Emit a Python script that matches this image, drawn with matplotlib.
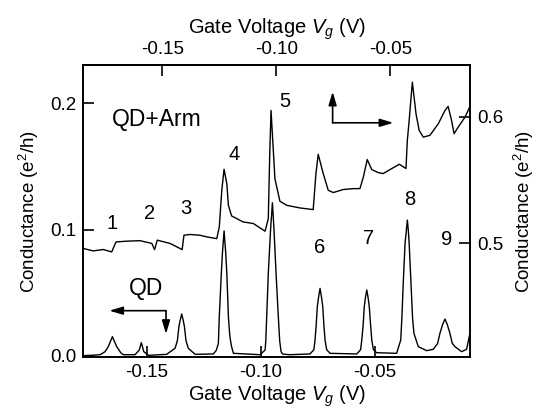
import matplotlib
matplotlib.use('Agg')
import matplotlib.pyplot as plt

plt.rcParams['font.family'] = ['Liberation Sans', 'DejaVu Sans']
plt.rcParams['mathtext.fontset'] = 'custom'
plt.rcParams['mathtext.rm'] = 'Liberation Sans'
plt.rcParams['mathtext.it'] = 'Liberation Sans:italic'

# QD trace (left axis), gate voltage in V, conductance in e^2/h
vg_qd = [-0.1779, -0.1740, -0.1706, -0.1684, -0.1670, -0.1652, -0.1633, -0.1615,
         -0.1604, -0.1553, -0.1534, -0.1525, -0.1514, -0.1494, -0.1414, -0.1377,
         -0.1367, -0.1360, -0.1355, -0.1348, -0.1341, -0.1336, -0.1329, -0.1319,
         -0.1289, -0.1209, -0.1196, -0.1187, -0.1183, -0.1174, -0.1169, -0.1162,
         -0.1155, -0.1150, -0.1143, -0.1137, -0.1130, -0.1121, -0.1004, -0.0982,
         -0.0979, -0.0975, -0.0968, -0.0958, -0.0950, -0.0943, -0.0934, -0.0924,
         -0.0918, -0.0912, -0.0905, -0.0873, -0.0785, -0.0768, -0.0763, -0.0758,
         -0.0753, -0.0747, -0.0741, -0.0735, -0.0729, -0.0724, -0.0719, -0.0712,
         -0.0697, -0.0580, -0.0563, -0.0558, -0.0552, -0.0547, -0.0542, -0.0536,
         -0.0530, -0.0525, -0.0519, -0.0514, -0.0507, -0.0493, -0.0405, -0.0387,
         -0.0382, -0.0376, -0.0368, -0.0362, -0.0358, -0.0354, -0.0350, -0.0342,
         -0.0335, -0.0329, -0.0310, -0.0273, -0.0244, -0.0225, -0.0215, -0.0203,
         -0.0193, -0.0183, -0.0171, -0.0161, -0.0149, -0.0120, -0.0098, -0.0083]
g_qd = [0.0003, 0.0006, 0.0010, 0.0034, 0.0074, 0.0153, 0.0074, 0.0025,
        0.0010, 0.0010, 0.0047, 0.0105, 0.0034, 0.0005, 0.0013, 0.0061,
        0.0120, 0.0233, 0.0280, 0.0332, 0.0280, 0.0233, 0.0120, 0.0061,
        0.0013, 0.0016, 0.0045, 0.0100, 0.0311, 0.0656, 0.0820, 0.0990,
        0.0820, 0.0656, 0.0311, 0.0160, 0.0080, 0.0021, 0.0010, 0.0047,
        0.0120, 0.0310, 0.0654, 0.1000, 0.1212, 0.1000, 0.0654, 0.0310,
        0.0120, 0.0034, 0.0015, 0.0010, 0.0016, 0.0050, 0.0126, 0.0240,
        0.0390, 0.0470, 0.0535, 0.0470, 0.0390, 0.0240, 0.0126, 0.0050,
        0.0021, 0.0016, 0.0050, 0.0126, 0.0240, 0.0390, 0.0460, 0.0522,
        0.0460, 0.0390, 0.0240, 0.0126, 0.0050, 0.0026, 0.0021, 0.0126,
        0.0300, 0.0575, 0.0891, 0.1000, 0.1075, 0.1000, 0.0891, 0.0575,
        0.0300, 0.0179, 0.0074, 0.0042, 0.0053, 0.0100, 0.0179, 0.0250,
        0.0292, 0.0250, 0.0179, 0.0100, 0.0074, 0.0034, 0.0053, 0.0182]

# QD+Arm trace (right axis)
vg_arm = [-0.1779, -0.1736, -0.1692, -0.1655, -0.1636, -0.1589, -0.1531, -0.1479,
          -0.1467, -0.1455, -0.1399, -0.1355, -0.1346, -0.1338, -0.1311, -0.1268,
          -0.1238, -0.1194, -0.1183, -0.1172, -0.1162, -0.1150, -0.1143, -0.1129,
          -0.1078, -0.1034, -0.0982, -0.0968, -0.0962, -0.0956, -0.0946, -0.0939,
          -0.0917, -0.0887, -0.0829, -0.0771, -0.0759, -0.0749, -0.0727, -0.0705,
          -0.0683, -0.0639, -0.0595, -0.0566, -0.0551, -0.0534, -0.0514, -0.0486,
          -0.0464, -0.0434, -0.0393, -0.0364, -0.0358, -0.0350, -0.0336, -0.0320,
          -0.0306, -0.0288, -0.0259, -0.0222, -0.0193, -0.0179, -0.0164, -0.0153,
          -0.0135, -0.0105, -0.0083]
g_arm = [0.4958, 0.4939, 0.4950, 0.4931, 0.5010, 0.5016, 0.5020, 0.4998,
         0.4949, 0.5024, 0.4998, 0.4958, 0.4949, 0.5063, 0.5069, 0.5063,
         0.5050, 0.5036, 0.5129, 0.5419, 0.5585, 0.5472, 0.5300, 0.5216,
         0.5168, 0.5156, 0.5095, 0.5195, 0.5682, 0.6051, 0.5735, 0.5511,
         0.5332, 0.5300, 0.5279, 0.5266, 0.5551, 0.5704, 0.5551, 0.5419,
         0.5401, 0.5425, 0.5432, 0.5432, 0.5524, 0.5662, 0.5583, 0.5559,
         0.5551, 0.5583, 0.5625, 0.5591, 0.5814, 0.5972, 0.6275, 0.6025,
         0.5893, 0.5840, 0.5854, 0.5946, 0.6051, 0.6083, 0.5972, 0.5867,
         0.5919, 0.5998, 0.6083]

peak_labels = ['1', '2', '3', '4', '5', '6', '7', '8', '9']
peak_label_pos = [(0.074, 0.458), (0.173, 0.490), (0.266, 0.509), (0.390, 0.692),
                  (0.522, 0.874), (0.612, 0.376), (0.737, 0.407), (0.843, 0.538),
                  (0.940, 0.401)]

fig = plt.figure(figsize=(5.42, 4.19), dpi=100)
ax = fig.add_axes([0.1531, 0.148, 0.7141, 0.6969])

ax.plot(vg_qd, g_qd, color='black', lw=1.0)
ax.set_xlim(-0.1781, -0.0083)
ax.set_ylim(-0.0008, 0.2302)
ax.set_xticks([-0.15, -0.10, -0.05])
ax.set_xticklabels(['-0.15', '-0.10', '-0.05'])
ax.set_yticks([0.0, 0.1, 0.2])
ax.set_yticklabels(['0.0', '0.1', '0.2'])
ax.tick_params(direction='in', length=8, width=1.2, labelsize=13.5, pad=5)
ax.set_xlabel('Gate Voltage $V_g$ (V)', fontsize=14.5, labelpad=2)
ax.set_ylabel('Conductance (e$^2$/h)', fontsize=13.5, labelpad=6)

ax2 = ax.twinx()
ax2.plot(vg_arm, g_arm, color='black', lw=1.0)
ax2.set_ylim(0.4099, 0.6411)
ax2.set_yticks([0.5, 0.6])
ax2.set_yticklabels(['0.5', '0.6'])
ax2.tick_params(direction='in', length=8, width=1.2, labelsize=13.5, pad=5)
ax2.set_ylabel('Conductance (e$^2$/h)', fontsize=13.5, labelpad=6)

top = ax.secondary_xaxis('top', functions=(lambda v: v - 0.0067, lambda v: v + 0.0067))
top.set_xticks([-0.15, -0.10, -0.05])
top.set_xticklabels(['-0.15', '-0.10', '-0.05'])
top.tick_params(direction='in', length=8, width=1.2, labelsize=13.5, pad=5)
top.set_xlabel('Gate Voltage $V_g$ (V)', fontsize=14.5, labelpad=5)

for a in (ax, ax2):
    for s in a.spines.values():
        s.set_linewidth(1.2)
top.spines['top'].set_linewidth(1.2)

for lab, (fx, fy) in zip(peak_labels, peak_label_pos):
    ax.text(fx, fy, lab, transform=ax.transAxes, fontsize=14.5, ha='center', va='center')

ax.text(0.19, 0.812, 'QD+Arm', transform=ax.transAxes, fontsize=16.5, ha='center', va='center')
ax.text(0.163, 0.235, 'QD', transform=ax.transAxes, fontsize=16.5, ha='center', va='center')

arrow = dict(arrowstyle='-|>,head_length=0.8,head_width=0.24', color='black', lw=1.2,
             shrinkA=0, shrinkB=0)
# QD arrows
ax.annotate('', xy=(0.068, 0.1586), xytext=(0.2145, 0.1586), xycoords='axes fraction',
            arrowprops=arrow)
ax.annotate('', xy=(0.2145, 0.0788), xytext=(0.2145, 0.1586), xycoords='axes fraction',
            arrowprops=arrow)
# QD+Arm arrows
ax.annotate('', xy=(0.645, 0.9086), xytext=(0.645, 0.802), xycoords='axes fraction',
            arrowprops=arrow)
ax.annotate('', xy=(0.802, 0.802), xytext=(0.645, 0.802), xycoords='axes fraction',
            arrowprops=arrow)

fig.savefig('out.png', dpi=100)
